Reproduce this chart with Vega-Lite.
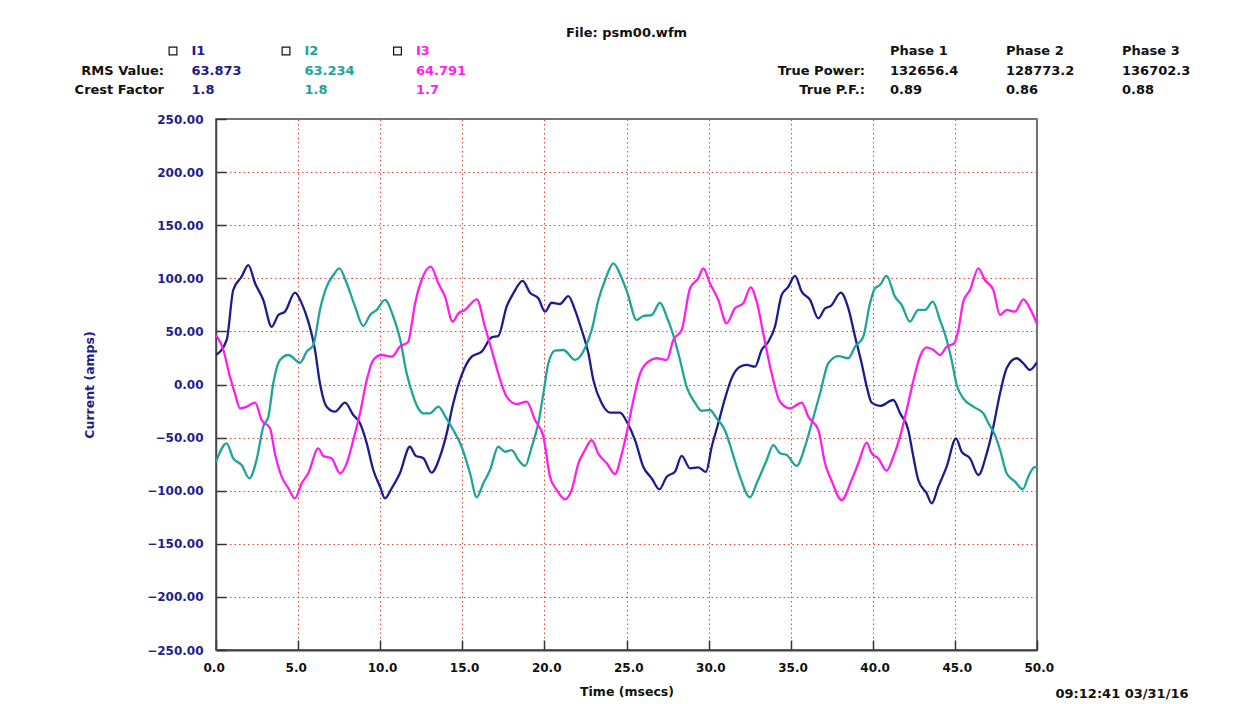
{
  "$schema": "https://vega.github.io/schema/vega-lite/v6.json",
  "width": 821,
  "height": 531,
  "autosize": {"type": "none"},
  "padding": {"left": 216, "top": 119, "right": 210, "bottom": 54},
  "background": "white",
  "config": {"view": {"stroke": "#444", "strokeWidth": 1.5}, "font": "DejaVu Sans"},
  "datasets": {
    "waves": [
      {"s":"I1","t":0,"v":27.8},{"s":"I1","t":0.65,"v":41.9},{"s":"I1","t":1.05,"v":89},{"s":"I1","t":1.56,"v":101.5},{"s":"I1","t":1.97,"v":112.5},{"s":"I1","t":2.38,"v":95.3},{"s":"I1","t":2.88,"v":79.6},{"s":"I1","t":3.39,"v":54.4},{"s":"I1","t":3.8,"v":65.4},{"s":"I1","t":4.2,"v":68.6},{"s":"I1","t":4.81,"v":86.5},{"s":"I1","t":5.22,"v":76.4},{"s":"I1","t":5.62,"v":59.2},{"s":"I1","t":6.03,"v":32.5},{"s":"I1","t":6.33,"v":1.1},{"s":"I1","t":6.74,"v":-20.9},{"s":"I1","t":7.25,"v":-25.6},{"s":"I1","t":7.86,"v":-17.1},{"s":"I1","t":8.36,"v":-28.7},{"s":"I1","t":8.77,"v":-36.5},{"s":"I1","t":9.18,"v":-55.4},{"s":"I1","t":9.58,"v":-80.5},{"s":"I1","t":9.99,"v":-96.2},{"s":"I1","t":10.29,"v":-107.2},{"s":"I1","t":10.7,"v":-97.7},{"s":"I1","t":11.2,"v":-83.6},{"s":"I1","t":11.81,"v":-58.6},{"s":"I1","t":12.15,"v":-67},{"s":"I1","t":12.63,"v":-69.5},{"s":"I1","t":13.13,"v":-83},{"s":"I1","t":13.64,"v":-68},{"s":"I1","t":14.05,"v":-46},{"s":"I1","t":14.45,"v":-17.7},{"s":"I1","t":14.96,"v":8.9},{"s":"I1","t":15.57,"v":26.2},{"s":"I1","t":16.18,"v":30.9},{"s":"I1","t":16.79,"v":44.4},{"s":"I1","t":17.19,"v":45.7},{"s":"I1","t":17.7,"v":73.3},{"s":"I1","t":18.11,"v":85.9},{"s":"I1","t":18.68,"v":97.5},{"s":"I1","t":19.12,"v":86.5},{"s":"I1","t":19.63,"v":81.2},{"s":"I1","t":20.04,"v":68.6},{"s":"I1","t":20.44,"v":77},{"s":"I1","t":20.95,"v":75.8},{"s":"I1","t":21.46,"v":83.3},{"s":"I1","t":21.86,"v":70.2},{"s":"I1","t":22.27,"v":51.3},{"s":"I1","t":22.68,"v":29.4},{"s":"I1","t":22.98,"v":4.2},{"s":"I1","t":23.49,"v":-17.7},{"s":"I1","t":24.0,"v":-26.5},{"s":"I1","t":24.6,"v":-26.5},{"s":"I1","t":25.05,"v":-36},{"s":"I1","t":25.52,"v":-52.3},{"s":"I1","t":26.02,"v":-77.4},{"s":"I1","t":26.53,"v":-88.3},{"s":"I1","t":27.0,"v":-98.7},{"s":"I1","t":27.45,"v":-86.8},{"s":"I1","t":27.95,"v":-82.2},{"s":"I1","t":28.36,"v":-67.3},{"s":"I1","t":28.87,"v":-78.9},{"s":"I1","t":29.37,"v":-78},{"s":"I1","t":29.84,"v":-82.2},{"s":"I1","t":30.19,"v":-58.6},{"s":"I1","t":30.59,"v":-36.5},{"s":"I1","t":31.0,"v":-13},{"s":"I1","t":31.4,"v":5.8},{"s":"I1","t":31.91,"v":16.8},{"s":"I1","t":32.32,"v":18.4},{"s":"I1","t":32.83,"v":16.8},{"s":"I1","t":33.23,"v":32.5},{"s":"I1","t":33.64,"v":40.3},{"s":"I1","t":34.04,"v":54.4},{"s":"I1","t":34.45,"v":84.3},{"s":"I1","t":34.86,"v":92.1},{"s":"I1","t":35.26,"v":102.2},{"s":"I1","t":35.67,"v":87.4},{"s":"I1","t":36.18,"v":79.6},{"s":"I1","t":36.68,"v":62.3},{"s":"I1","t":37.09,"v":71.7},{"s":"I1","t":37.45,"v":74},{"s":"I1","t":38.05,"v":86.5},{"s":"I1","t":38.51,"v":71.7},{"s":"I1","t":38.92,"v":45},{"s":"I1","t":39.32,"v":20},{"s":"I1","t":39.63,"v":-2},{"s":"I1","t":39.93,"v":-17.1},{"s":"I1","t":40.44,"v":-20.2},{"s":"I1","t":41.25,"v":-14.6},{"s":"I1","t":41.66,"v":-27.1},{"s":"I1","t":42.16,"v":-42.8},{"s":"I1","t":42.47,"v":-68},{"s":"I1","t":42.77,"v":-89.9},{"s":"I1","t":43.28,"v":-102.5},{"s":"I1","t":43.59,"v":-111.9},{"s":"I1","t":43.99,"v":-96.2},{"s":"I1","t":44.5,"v":-77.4},{"s":"I1","t":45.07,"v":-50.7},{"s":"I1","t":45.41,"v":-63.3},{"s":"I1","t":45.92,"v":-69.5},{"s":"I1","t":46.43,"v":-85.2},{"s":"I1","t":46.94,"v":-64.8},{"s":"I1","t":47.34,"v":-39.7},{"s":"I1","t":47.75,"v":-8.3},{"s":"I1","t":48.15,"v":15.2},{"s":"I1","t":48.76,"v":24.7},{"s":"I1","t":49.17,"v":19.9},{"s":"I1","t":49.57,"v":13.7},{"s":"I1","t":50,"v":21},
      {"s":"I2","t":0,"v":-72.7},{"s":"I2","t":0.65,"v":-55.4},{"s":"I2","t":1.05,"v":-69.5},{"s":"I2","t":1.56,"v":-75.8},{"s":"I2","t":2.03,"v":-88.3},{"s":"I2","t":2.47,"v":-71.1},{"s":"I2","t":2.88,"v":-39.7},{"s":"I2","t":3.19,"v":-30.3},{"s":"I2","t":3.49,"v":1.1},{"s":"I2","t":3.9,"v":23.1},{"s":"I2","t":4.41,"v":27.8},{"s":"I2","t":5.12,"v":20.5},{"s":"I2","t":5.52,"v":30.9},{"s":"I2","t":5.93,"v":37.2},{"s":"I2","t":6.33,"v":70.2},{"s":"I2","t":6.74,"v":92.1},{"s":"I2","t":7.15,"v":103.1},{"s":"I2","t":7.51,"v":109.4},{"s":"I2","t":7.96,"v":95.3},{"s":"I2","t":8.47,"v":73.3},{"s":"I2","t":8.97,"v":55.1},{"s":"I2","t":9.38,"v":65.4},{"s":"I2","t":9.79,"v":70.2},{"s":"I2","t":10.29,"v":79.6},{"s":"I2","t":10.8,"v":63.8},{"s":"I2","t":11.2,"v":43.5},{"s":"I2","t":11.61,"v":10.5},{"s":"I2","t":12.02,"v":-11.5},{"s":"I2","t":12.3,"v":-22},{"s":"I2","t":12.63,"v":-27.1},{"s":"I2","t":13.03,"v":-27.1},{"s":"I2","t":13.54,"v":-20.9},{"s":"I2","t":13.95,"v":-29.7},{"s":"I2","t":14.45,"v":-42.8},{"s":"I2","t":14.96,"v":-58.6},{"s":"I2","t":15.47,"v":-83.6},{"s":"I2","t":15.88,"v":-106.2},{"s":"I2","t":16.28,"v":-93},{"s":"I2","t":16.69,"v":-80.5},{"s":"I2","t":17.19,"v":-58.6},{"s":"I2","t":17.6,"v":-63.3},{"s":"I2","t":18.01,"v":-61.7},{"s":"I2","t":18.42,"v":-71.1},{"s":"I2","t":18.82,"v":-76.7},{"s":"I2","t":19.23,"v":-58.6},{"s":"I2","t":19.63,"v":-36.5},{"s":"I2","t":19.94,"v":-8.3},{"s":"I2","t":20.24,"v":20},{"s":"I2","t":20.65,"v":31.9},{"s":"I2","t":21.16,"v":32.5},{"s":"I2","t":21.87,"v":23.1},{"s":"I2","t":22.47,"v":34.1},{"s":"I2","t":22.88,"v":51.3},{"s":"I2","t":23.29,"v":79.6},{"s":"I2","t":23.7,"v":98.4},{"s":"I2","t":24.2,"v":114.1},{"s":"I2","t":24.71,"v":100},{"s":"I2","t":25.05,"v":86.5},{"s":"I2","t":25.62,"v":60.7},{"s":"I2","t":26.02,"v":64.5},{"s":"I2","t":26.53,"v":65.4},{"s":"I2","t":27.04,"v":77},{"s":"I2","t":27.45,"v":63.8},{"s":"I2","t":27.85,"v":46.6},{"s":"I2","t":28.26,"v":23.1},{"s":"I2","t":28.66,"v":-2},{"s":"I2","t":29.17,"v":-17.1},{"s":"I2","t":29.57,"v":-24.7},{"s":"I2","t":30.08,"v":-24},{"s":"I2","t":30.49,"v":-31.9},{"s":"I2","t":30.99,"v":-42.8},{"s":"I2","t":31.4,"v":-61.7},{"s":"I2","t":31.91,"v":-86.8},{"s":"I2","t":32.52,"v":-106.2},{"s":"I2","t":32.93,"v":-93},{"s":"I2","t":33.54,"v":-71.1},{"s":"I2","t":33.94,"v":-57},{"s":"I2","t":34.35,"v":-64.8},{"s":"I2","t":34.76,"v":-66.4},{"s":"I2","t":35.36,"v":-76.7},{"s":"I2","t":35.87,"v":-58.6},{"s":"I2","t":36.28,"v":-36.5},{"s":"I2","t":36.79,"v":-8.3},{"s":"I2","t":37.29,"v":20},{"s":"I2","t":37.9,"v":26.8},{"s":"I2","t":38.51,"v":24.7},{"s":"I2","t":38.92,"v":35.6},{"s":"I2","t":39.42,"v":45},{"s":"I2","t":39.83,"v":76.4},{"s":"I2","t":40.13,"v":90.6},{"s":"I2","t":40.44,"v":93.7},{"s":"I2","t":40.84,"v":102.2},{"s":"I2","t":41.35,"v":82.7},{"s":"I2","t":41.76,"v":74.8},{"s":"I2","t":42.26,"v":59.2},{"s":"I2","t":42.77,"v":70.2},{"s":"I2","t":43.18,"v":70.2},{"s":"I2","t":43.65,"v":78},{"s":"I2","t":44.09,"v":60.7},{"s":"I2","t":44.5,"v":41.9},{"s":"I2","t":44.8,"v":23.1},{"s":"I2","t":45.11,"v":-0.5},{"s":"I2","t":45.51,"v":-13},{"s":"I2","t":46.12,"v":-20.9},{"s":"I2","t":46.73,"v":-27.1},{"s":"I2","t":47.04,"v":-36.5},{"s":"I2","t":47.44,"v":-47.6},{"s":"I2","t":47.75,"v":-61.7},{"s":"I2","t":48.15,"v":-83.6},{"s":"I2","t":48.66,"v":-91.5},{"s":"I2","t":49.13,"v":-98.7},{"s":"I2","t":49.47,"v":-86.8},{"s":"I2","t":49.82,"v":-78},{"s":"I2","t":50,"v":-77.5},
      {"s":"I3","t":0,"v":46.6},{"s":"I3","t":0.45,"v":32.5},{"s":"I3","t":0.85,"v":7.3},{"s":"I3","t":1.15,"v":-8.3},{"s":"I3","t":1.46,"v":-22.4},{"s":"I3","t":1.87,"v":-20.9},{"s":"I3","t":2.38,"v":-17.1},{"s":"I3","t":2.78,"v":-33.4},{"s":"I3","t":3.29,"v":-41.2},{"s":"I3","t":3.59,"v":-65},{"s":"I3","t":4.0,"v":-86.8},{"s":"I3","t":4.41,"v":-97.7},{"s":"I3","t":4.81,"v":-107.2},{"s":"I3","t":5.22,"v":-93},{"s":"I3","t":5.62,"v":-83.6},{"s":"I3","t":6.23,"v":-60.1},{"s":"I3","t":6.53,"v":-67.3},{"s":"I3","t":7.04,"v":-69.5},{"s":"I3","t":7.55,"v":-83.6},{"s":"I3","t":7.96,"v":-74.2},{"s":"I3","t":8.36,"v":-52.3},{"s":"I3","t":8.77,"v":-27.1},{"s":"I3","t":9.18,"v":4.2},{"s":"I3","t":9.58,"v":23.1},{"s":"I3","t":10.09,"v":27.8},{"s":"I3","t":10.7,"v":26.2},{"s":"I3","t":11.2,"v":35.6},{"s":"I3","t":11.71,"v":40.3},{"s":"I3","t":11.9,"v":55},{"s":"I3","t":12.12,"v":76},{"s":"I3","t":12.52,"v":98.4},{"s":"I3","t":13.08,"v":110.9},{"s":"I3","t":13.54,"v":95.3},{"s":"I3","t":13.95,"v":82.7},{"s":"I3","t":14.41,"v":59.2},{"s":"I3","t":14.76,"v":67},{"s":"I3","t":15.16,"v":70.2},{"s":"I3","t":15.88,"v":80.2},{"s":"I3","t":16.38,"v":54.4},{"s":"I3","t":16.79,"v":32.5},{"s":"I3","t":17.19,"v":10.5},{"s":"I3","t":17.7,"v":-11.5},{"s":"I3","t":18.32,"v":-18.4},{"s":"I3","t":18.92,"v":-16.2},{"s":"I3","t":19.43,"v":-33.4},{"s":"I3","t":19.94,"v":-49.1},{"s":"I3","t":20.34,"v":-86.8},{"s":"I3","t":20.75,"v":-99.3},{"s":"I3","t":21.26,"v":-108.1},{"s":"I3","t":21.66,"v":-99.3},{"s":"I3","t":22.07,"v":-74.2},{"s":"I3","t":22.47,"v":-61.7},{"s":"I3","t":22.88,"v":-52.3},{"s":"I3","t":23.29,"v":-65.4},{"s":"I3","t":23.8,"v":-74.2},{"s":"I3","t":24.3,"v":-84.3},{"s":"I3","t":24.7,"v":-66},{"s":"I3","t":25.05,"v":-42.8},{"s":"I3","t":25.42,"v":-14.6},{"s":"I3","t":25.83,"v":10.5},{"s":"I3","t":26.33,"v":21.5},{"s":"I3","t":26.84,"v":24.7},{"s":"I3","t":27.45,"v":23.1},{"s":"I3","t":27.85,"v":42},{"s":"I3","t":28.36,"v":51.3},{"s":"I3","t":28.87,"v":90.6},{"s":"I3","t":29.37,"v":100},{"s":"I3","t":29.68,"v":109.4},{"s":"I3","t":30.08,"v":95.3},{"s":"I3","t":30.59,"v":79.6},{"s":"I3","t":31.1,"v":57.6},{"s":"I3","t":31.6,"v":71.7},{"s":"I3","t":32.11,"v":76.4},{"s":"I3","t":32.56,"v":91.5},{"s":"I3","t":32.93,"v":78},{"s":"I3","t":33.33,"v":48.2},{"s":"I3","t":33.84,"v":10.5},{"s":"I3","t":34.35,"v":-16.2},{"s":"I3","t":34.96,"v":-22.4},{"s":"I3","t":35.67,"v":-17.1},{"s":"I3","t":36.07,"v":-30.3},{"s":"I3","t":36.68,"v":-42.8},{"s":"I3","t":37.09,"v":-74.2},{"s":"I3","t":37.5,"v":-91},{"s":"I3","t":38.1,"v":-108.8},{"s":"I3","t":38.71,"v":-89.9},{"s":"I3","t":39.12,"v":-74.2},{"s":"I3","t":39.63,"v":-54.8},{"s":"I3","t":39.93,"v":-64.8},{"s":"I3","t":40.33,"v":-69.5},{"s":"I3","t":40.84,"v":-81.2},{"s":"I3","t":41.25,"v":-68},{"s":"I3","t":41.66,"v":-49.1},{"s":"I3","t":42.06,"v":-24},{"s":"I3","t":42.47,"v":3.6},{"s":"I3","t":42.87,"v":26.2},{"s":"I3","t":43.28,"v":35},{"s":"I3","t":43.69,"v":32.5},{"s":"I3","t":44.09,"v":27.8},{"s":"I3","t":44.5,"v":35.6},{"s":"I3","t":44.95,"v":38.8},{"s":"I3","t":45.21,"v":51.3},{"s":"I3","t":45.51,"v":78},{"s":"I3","t":45.92,"v":89},{"s":"I3","t":46.43,"v":109.4},{"s":"I3","t":46.83,"v":98.4},{"s":"I3","t":47.34,"v":89},{"s":"I3","t":47.75,"v":65.4},{"s":"I3","t":48.15,"v":70.2},{"s":"I3","t":48.66,"v":68.6},{"s":"I3","t":49.17,"v":80.2},{"s":"I3","t":49.57,"v":71.7},{"s":"I3","t":50,"v":57}
    ],
    "header": [
      {"k":"ctr","col":3.5,"row":-1,"txt":"File: psm00.wfm"},
      {"k":"box","col":1,"row":0,"txt":""},
      {"k":"box","col":2,"row":0,"txt":""},
      {"k":"box","col":3,"row":0,"txt":""},
      {"k":"ser","s":"I1","col":1,"row":0,"txt":"I1"},
      {"k":"ser","s":"I1","col":1,"row":1,"txt":"63.873"},
      {"k":"ser","s":"I1","col":1,"row":2,"txt":"1.8"},
      {"k":"ser","s":"I2","col":2,"row":0,"txt":"I2"},
      {"k":"ser","s":"I2","col":2,"row":1,"txt":"63.234"},
      {"k":"ser","s":"I2","col":2,"row":2,"txt":"1.8"},
      {"k":"ser","s":"I3","col":3,"row":0,"txt":"I3"},
      {"k":"ser","s":"I3","col":3,"row":1,"txt":"64.791"},
      {"k":"ser","s":"I3","col":3,"row":2,"txt":"1.7"},
      {"k":"lab","col":0,"row":1,"txt":"RMS Value:"},
      {"k":"lab","col":0,"row":2,"txt":"Crest Factor"},
      {"k":"lab","col":4,"row":1,"txt":"True Power:"},
      {"k":"lab","col":4,"row":2,"txt":"True P.F.:"},
      {"k":"blk","col":5,"row":0,"txt":"Phase 1"},
      {"k":"blk","col":5,"row":1,"txt":"132656.4"},
      {"k":"blk","col":5,"row":2,"txt":"0.89"},
      {"k":"blk","col":6,"row":0,"txt":"Phase 2"},
      {"k":"blk","col":6,"row":1,"txt":"128773.2"},
      {"k":"blk","col":6,"row":2,"txt":"0.86"},
      {"k":"blk","col":7,"row":0,"txt":"Phase 3"},
      {"k":"blk","col":7,"row":1,"txt":"136702.3"},
      {"k":"blk","col":7,"row":2,"txt":"0.88"},
      {"k":"ctr","col":7,"row":3,"txt":"09:12:41 03/31/16"}
    ]
  },
  "layer": [
    {
      "data": {"name": "waves"},
      "mark": {"type": "line", "strokeWidth": 2.3, "clip": true, "interpolate": "monotone"},
      "encoding": {
        "x": {
          "field": "t", "type": "quantitative",
          "scale": {"domain": [0, 50], "nice": false, "zero": false},
          "axis": {
            "values": [0, 5, 10, 15, 20, 25, 30, 35, 40, 45, 50],
            "format": ".1f", "grid": true,
            "gridColor": "#e0453c", "gridDash": [1.5, 3], "gridWidth": 1,
            "tickSize": -10, "tickColor": "#333", "tickWidth": 1.5,
            "domainColor": "#444", "domainWidth": 2,
            "labelAlign": "left", "labelOffset": -13, "labelPadding": 22,
            "labelFlush": false, "labelOverlap": false, "labelBound": false,
            "labelFont": "DejaVu Sans", "labelFontSize": 12, "labelFontWeight": "bold", "labelColor": "#111",
            "title": "Time (msecs)", "titleFont": "DejaVu Sans", "titleFontSize": 12.5, "titleFontWeight": "bold",
            "titleColor": "#111", "titlePadding": 12
          }
        },
        "y": {
          "field": "v", "type": "quantitative",
          "scale": {"domain": [-250, 250], "nice": false, "zero": false},
          "axis": {
            "values": [-250, -200, -150, -100, -50, 0, 50, 100, 150, 200, 250],
            "format": ".2f", "grid": true,
            "gridColor": "#e0453c", "gridDash": [1.5, 3], "gridWidth": 1,
            "tickSize": -10, "tickColor": "#333", "tickWidth": 1.5,
            "domainColor": "#444", "domainWidth": 1.5,
            "labelPadding": 23, "labelFlush": false, "labelOverlap": false, "labelBound": false,
            "labelFont": "DejaVu Sans", "labelFontSize": 12, "labelFontWeight": "bold", "labelColor": "#1e1e8c",
            "title": "Current (amps)", "titleFont": "DejaVu Sans", "titleFontSize": 12.5, "titleFontWeight": "bold",
            "titleColor": "#1e1e8c", "titlePadding": 50
          }
        },
        "color": {
          "field": "s", "type": "nominal",
          "scale": {"domain": ["I1", "I2", "I3"], "range": ["#1c1c90", "#1fa39a", "#ff1ef0"]},
          "legend": null
        }
      }
    },
    {
      "data": {"name": "header"},
      "encoding": {
        "x": {
          "field": "col", "type": "quantitative",
          "scale": {"type": "linear", "domain": [0, 1, 2, 3, 3.5, 4, 5, 6, 7], "range": [-52, -24.5, 88.5, 200, 410.5, 649, 674, 790, 906], "zero": false, "nice": false},
          "axis": null
        },
        "y": {
          "field": "row", "type": "quantitative",
          "scale": {"type": "linear", "domain": [-1, 0, 1, 2, 3], "range": [-86, -68, -48.5, -29, 575], "zero": false, "nice": false},
          "axis": null
        }
      },
      "layer": [
        {
          "transform": [{"filter": "datum.k == 'lab'"}],
          "mark": {"type": "text", "align": "right", "baseline": "middle", "font": "DejaVu Sans", "fontSize": 13, "fontWeight": "bold", "color": "#111"},
          "encoding": {"text": {"field": "txt"}}
        },
        {
          "transform": [{"filter": "datum.k == 'blk'"}],
          "mark": {"type": "text", "align": "left", "baseline": "middle", "font": "DejaVu Sans", "fontSize": 13, "fontWeight": "bold", "color": "#111"},
          "encoding": {"text": {"field": "txt"}}
        },
        {
          "transform": [{"filter": "datum.k == 'ctr'"}],
          "mark": {"type": "text", "align": "center", "baseline": "middle", "font": "DejaVu Sans", "fontSize": 13, "fontWeight": "bold", "color": "#111"},
          "encoding": {"text": {"field": "txt"}}
        },
        {
          "transform": [{"filter": "datum.k == 'ser'"}],
          "mark": {"type": "text", "align": "left", "baseline": "middle", "font": "DejaVu Sans", "fontSize": 13, "fontWeight": "bold"},
          "encoding": {
            "text": {"field": "txt"},
            "color": {"field": "s", "type": "nominal", "scale": {"domain": ["I1", "I2", "I3"], "range": ["#1c1c90", "#1fa39a", "#ff1ef0"]}, "legend": null}
          }
        },
        {
          "transform": [{"filter": "datum.k == 'box'"}],
          "mark": {"type": "point", "shape": "square", "filled": false, "stroke": "#111", "strokeWidth": 1.2, "size": 60, "xOffset": -18.5, "opacity": 1}
        }
      ]
    }
  ],
  "resolve": {"scale": {"x": "independent", "y": "independent"}}
}
